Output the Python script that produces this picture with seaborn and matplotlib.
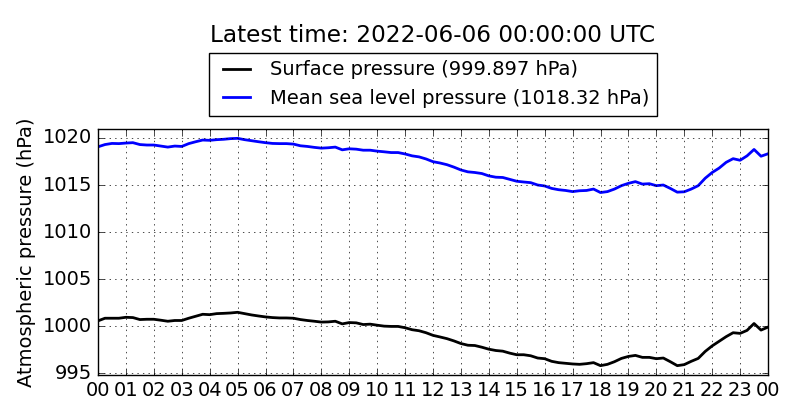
import numpy as np
import pandas as pd
import matplotlib
matplotlib.use("Agg")
import matplotlib.pyplot as plt
import matplotlib.dates as mdates
import seaborn as sns

# Values, every 15 minutes from 2022-06-05 00:00 to 2022-06-06 00:00 UTC
surface = [
    1000.56, 1000.84, 1000.84, 1000.84, 1000.94, 1000.91, 1000.70, 1000.73,
    1000.73, 1000.63, 1000.52, 1000.60, 1000.60, 1000.84, 1001.05, 1001.26,
    1001.22, 1001.33, 1001.36, 1001.40, 1001.47, 1001.33, 1001.19, 1001.08,
    1000.98, 1000.91, 1000.87, 1000.87, 1000.84, 1000.70, 1000.60, 1000.52,
    1000.43, 1000.45, 1000.52, 1000.24, 1000.38, 1000.35, 1000.17, 1000.21,
    1000.10, 1000.00, 999.97, 999.97, 999.83, 999.62, 999.51, 999.30,
    999.02, 998.85, 998.67, 998.43, 998.15, 997.97, 997.94, 997.76,
    997.55, 997.41, 997.34, 997.13, 996.96, 996.96, 996.85, 996.61,
    996.54, 996.26, 996.12, 996.05, 995.98, 995.94, 996.01, 996.12,
    995.80, 995.94, 996.22, 996.57, 996.78, 996.89, 996.68, 996.68,
    996.54, 996.61, 996.22, 995.80, 995.91, 996.26, 996.57, 997.31,
    997.90, 998.39, 998.88, 999.30, 999.23, 999.55, 1000.28, 999.58,
    999.897,
]
msl = [
    1019.06, 1019.30, 1019.42, 1019.40, 1019.46, 1019.50, 1019.30, 1019.25,
    1019.25, 1019.14, 1019.03, 1019.14, 1019.10, 1019.40, 1019.60, 1019.78,
    1019.75, 1019.82, 1019.86, 1019.93, 1019.96, 1019.82, 1019.71, 1019.60,
    1019.50, 1019.42, 1019.40, 1019.40, 1019.35, 1019.17, 1019.10, 1019.00,
    1018.92, 1018.96, 1019.03, 1018.74, 1018.85, 1018.81, 1018.70, 1018.70,
    1018.60, 1018.53, 1018.45, 1018.45, 1018.30, 1018.10, 1017.99, 1017.77,
    1017.48, 1017.34, 1017.16, 1016.90, 1016.60, 1016.40, 1016.33, 1016.22,
    1015.97, 1015.83, 1015.80, 1015.60, 1015.40, 1015.32, 1015.25, 1015.00,
    1014.90, 1014.64, 1014.50, 1014.42, 1014.30, 1014.39, 1014.42, 1014.57,
    1014.20, 1014.30, 1014.57, 1014.93, 1015.18, 1015.36, 1015.10, 1015.14,
    1014.93, 1015.00, 1014.64, 1014.24, 1014.28, 1014.57, 1014.93, 1015.72,
    1016.33, 1016.80, 1017.41, 1017.80, 1017.63, 1018.10, 1018.78, 1018.06,
    1018.32,
]
times = pd.date_range("2022-06-05 00:00", "2022-06-06 00:00", freq="15min")
latest_time = "2022-06-06 00:00:00 UTC"

df = pd.DataFrame({"time": times, "surface": surface, "msl": msl})

plt.style.use("classic")
plt.rcParams["font.family"] = ["DejaVu Sans"]

fig = plt.figure(figsize=(8, 4.2), dpi=100, facecolor="white")
ax = fig.add_axes([0.1225, 0.107, 0.8375, 0.586])

sns.lineplot(data=df, x="time", y="surface", color="black", linewidth=2,
             label="Surface pressure (%s hPa)" % surface[-1], ax=ax)
sns.lineplot(data=df, x="time", y="msl", color="blue", linewidth=2,
             label="Mean sea level pressure (%s hPa)" % msl[-1], ax=ax)

ax.set_xlim(times[0], times[-1])
ax.set_ylim(min(surface) - 1, max(msl) + 1)
ax.xaxis.set_major_locator(mdates.HourLocator())
ax.xaxis.set_major_formatter(mdates.DateFormatter("%H"))
ax.set_yticks([995, 1000, 1005, 1010, 1015, 1020])
ax.ticklabel_format(axis="y", useOffset=False, style="plain")
ax.tick_params(labelsize=14)
ax.set_xlabel("")
ax.set_ylabel("Atmospheric pressure (hPa)", fontsize=14)
ax.grid(True, linestyle=":", color="black", linewidth=0.5)

leg = ax.legend(loc="lower center", bbox_to_anchor=(0.5, 1.053), fontsize=14,
                fancybox=False, frameon=True, borderaxespad=0, handlelength=2.0,
                handletextpad=0.7, labelspacing=0.5, borderpad=0.4)
leg.get_frame().set_edgecolor("black")

fig.text(0.5413, 1 - 35 / 420, "Latest time: " + latest_time, ha="center", va="center", fontsize=16.7)

plt.savefig("out.png", dpi=100, facecolor="white")
